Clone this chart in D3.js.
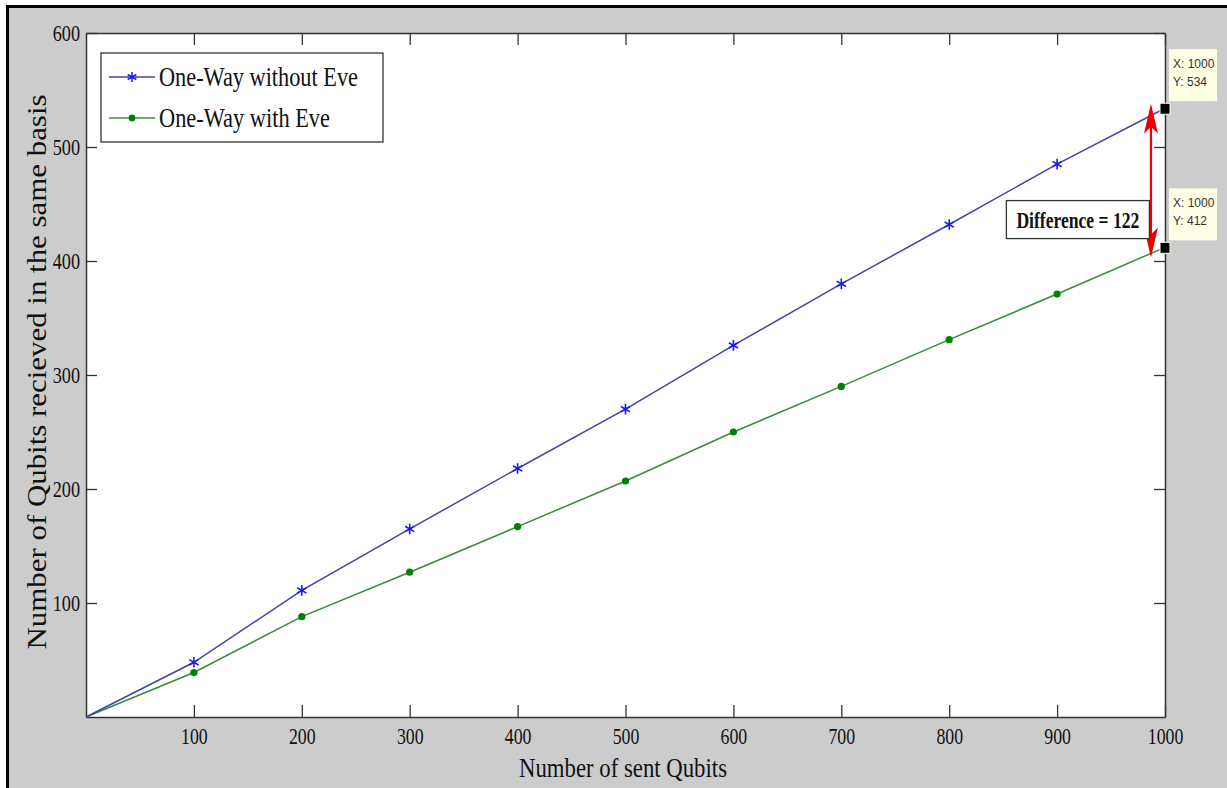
<!DOCTYPE html>
<html>
<head>
<meta charset="utf-8">
<script src="https://cdn.jsdelivr.net/npm/d3@7"></script>
<style>
  body { margin: 0; background: #fff; }
  text { font-family: "Liberation Serif", "Times New Roman", serif; fill: #111; }
  .tip text { font-family: "Liberation Sans", Arial, sans-serif; fill: #333; }
</style>
</head>
<body>
<div id="chart"></div>
<script>
// data
let sentQubits = [0, 100, 200, 300, 400, 500, 600, 700, 800, 900, 1000];
let withoutEve = [0, 48, 111, 165, 218, 270, 326, 380, 432, 485, 534];
let withEve = [0, 39, 88, 127, 167, 207, 250, 290, 331, 371, 412];
let xTicks = [100, 200, 300, 400, 500, 600, 700, 800, 900, 1000];
let yTicks = [100, 200, 300, 400, 500, 600];
let seriesNames = ["One-Way without Eve", "One-Way with Eve"];
let tips = [{ x: 1000, y: 534 }, { x: 1000, y: 412 }];
let diffArrow = { x: 987, top: 538, bottom: 403, label: "Difference = 122" };

let w = 1227, h = 788;

let svg = d3.select("#chart").append("svg")
    .attr("width", w)
    .attr("height", h);

// figure background with the black frame on top / left
svg.append("rect").attr("x", 7).attr("y", 6).attr("width", w - 7).attr("height", h - 6).attr("fill", "#cccccc");
svg.append("line").attr("x1", 7).attr("x2", w).attr("y1", 6.5).attr("y2", 6.5).attr("stroke", "#000").attr("stroke-width", 3);
svg.append("line").attr("x1", 7.5).attr("x2", 7.5).attr("y1", 5).attr("y2", h).attr("stroke", "#000").attr("stroke-width", 3);

let xScale = d3.scaleLinear().domain([0, 1000]).range([86, 1165]);
let yScale = d3.scaleLinear().domain([0, 600]).range([717, 33]);

// plot area
svg.append("rect")
    .attr("x", xScale(0)).attr("y", yScale(600))
    .attr("width", xScale(1000) - xScale(0))
    .attr("height", yScale(0) - yScale(600))
    .attr("fill", "#fff");

function squeeze(sel, k) {
    sel.each(function () {
        let len = this.getComputedTextLength();
        d3.select(this).attr("textLength", len * k).attr("lengthAdjust", "spacingAndGlyphs");
    });
}

function fitTo(sel, len) {
    sel.attr("textLength", len).attr("lengthAdjust", "spacingAndGlyphs");
}

function styleAxis(g) {
    g.select(".domain").attr("stroke", "#333").attr("stroke-width", 1.5);
    g.selectAll(".tick line").attr("stroke", "#333").attr("stroke-width", 1.3);
    g.selectAll("text").style("font-family", "Liberation Serif").style("font-size", "24px").attr("fill", "#111");
}

let xAxis = svg.append("g")
    .attr("transform", "translate(0," + yScale(0) + ")")
    .call(d3.axisBottom(xScale).tickValues(xTicks).tickFormat(d3.format("d"))
        .tickSizeInner(-12).tickSizeOuter(0).tickPadding(7));
styleAxis(xAxis);
xAxis.selectAll("text").attr("dy", "0.85em");
squeeze(xAxis.selectAll("text"), 0.74);

let xTop = svg.append("g")
    .attr("transform", "translate(0," + yScale(600) + ")")
    .call(d3.axisTop(xScale).tickValues(xTicks).tickSizeInner(-12).tickSizeOuter(0));
styleAxis(xTop);
xTop.selectAll("text").remove();

let yAxis = svg.append("g")
    .attr("transform", "translate(" + xScale(0) + ",0)")
    .call(d3.axisLeft(yScale).tickValues(yTicks).tickSizeInner(-11).tickSizeOuter(0).tickPadding(6));
styleAxis(yAxis);
squeeze(yAxis.selectAll("text"), 0.76);

let yRight = svg.append("g")
    .attr("transform", "translate(" + xScale(1000) + ",0)")
    .call(d3.axisRight(yScale).tickValues(yTicks).tickSizeInner(-11).tickSizeOuter(0));
styleAxis(yRight);
yRight.selectAll("text").remove();

// axis titles
let xTitle = svg.append("text")
    .attr("x", 623)
    .attr("y", 777)
    .style("text-anchor", "middle")
    .style("font-size", "27px")
    .text("Number of sent Qubits");
fitTo(xTitle, 208);

let yTitle = svg.append("text")
    .attr("transform", "translate(46,372) rotate(-90)")
    .style("text-anchor", "middle")
    .style("font-size", "28px")
    .text("Number of Qubits recieved in the same basis");
fitTo(yTitle, 555);

// series
let line = d3.line()
    .x(function (d) { return xScale(d[0]); })
    .y(function (d) { return yScale(d[1]); });

let blueData = sentQubits.map(function (s, i) { return [s, withoutEve[i]]; });
let greenData = sentQubits.map(function (s, i) { return [s, withEve[i]]; });

svg.append("path").datum(greenData).attr("d", line)
    .attr("fill", "none").attr("stroke", "#3a8a3a").attr("stroke-width", 1.5);
svg.append("path").datum(blueData).attr("d", line)
    .attr("fill", "none").attr("stroke", "#4343a8").attr("stroke-width", 1.5);

let star = d3.symbol().type(d3.symbolAsterisk).size(80);
svg.selectAll(".star")
    .data(blueData.slice(1))
    .enter()
    .append("path")
    .attr("class", "star")
    .attr("d", star)
    .attr("transform", function (d) { return "translate(" + xScale(d[0]) + "," + yScale(d[1]) + ")"; })
    .attr("fill", "none")
    .attr("stroke", "#1a1aff")
    .attr("stroke-width", 1.6);

svg.selectAll(".dot")
    .data(greenData.slice(1))
    .enter()
    .append("circle")
    .attr("class", "dot")
    .attr("cx", function (d) { return xScale(d[0]); })
    .attr("cy", function (d) { return yScale(d[1]); })
    .attr("r", 3.6)
    .attr("fill", "#008000");

// legend
let legend = svg.append("g").attr("transform", "translate(101,53)");
legend.append("rect").attr("width", 282).attr("height", 89)
    .attr("fill", "#fff").attr("stroke", "#333").attr("stroke-width", 1.3);
let legendColors = ["#4343a8", "#3a8a3a"];
let legendWidths = [199, 171];
seriesNames.forEach(function (name, i) {
    let yy = 24 + i * 41;
    legend.append("line").attr("x1", 8).attr("x2", 54).attr("y1", yy).attr("y2", yy)
        .attr("stroke", legendColors[i]).attr("stroke-width", 1.5);
    if (i === 0) {
        legend.append("path").attr("d", d3.symbol().type(d3.symbolAsterisk).size(70))
            .attr("transform", "translate(31," + yy + ")")
            .attr("fill", "none").attr("stroke", "#1a1aff").attr("stroke-width", 1.5);
    } else {
        legend.append("circle").attr("cx", 31).attr("cy", yy).attr("r", 3.4).attr("fill", "#008000");
    }
    let t = legend.append("text").attr("x", 58).attr("y", yy + 9)
        .style("font-size", "27px").text(name);
    fitTo(t, legendWidths[i]);
});

// difference arrow
let ax = xScale(diffArrow.x), aTop = yScale(diffArrow.top), aBot = yScale(diffArrow.bottom);
svg.append("line").attr("x1", ax).attr("x2", ax).attr("y1", aTop + 10).attr("y2", aBot - 10)
    .attr("stroke", "#ee0000").attr("stroke-width", 2.2);
svg.append("path")
    .attr("d", "M" + ax + "," + aTop + " L" + (ax - 7) + "," + (aTop + 30) + " L" + ax + "," + (aTop + 23) + " L" + (ax + 7) + "," + (aTop + 30) + "Z")
    .attr("fill", "#ee0000");
svg.append("path")
    .attr("d", "M" + ax + "," + aBot + " L" + (ax - 7) + "," + (aBot - 30) + " L" + ax + "," + (aBot - 23) + " L" + (ax + 7) + "," + (aBot - 30) + "Z")
    .attr("fill", "#ee0000");

let boxX = xScale(853), boxY = yScale(453);
svg.append("rect").attr("x", boxX).attr("y", boxY).attr("width", 143).attr("height", 38)
    .attr("fill", "#fff").attr("stroke", "#333").attr("stroke-width", 1.3);
// condense with a transform so the text box stays inside the frame
let diffText = svg.append("text")
    .style("text-anchor", "middle").style("font-size", "23px").style("font-weight", "bold")
    .text(diffArrow.label);
let diffK = 123 / diffText.node().getComputedTextLength();
diffText.attr("transform", "translate(" + (boxX + 71.5) + "," + (boxY + 27) + ") scale(" + diffK + ",1)");

// data tips
tips.forEach(function (d) {
    let px = xScale(d.x), py = yScale(d.y);
    let g = svg.append("g").attr("class", "tip");
    g.append("rect").attr("x", px + 4).attr("y", py - 59).attr("width", 48).attr("height", 52)
        .attr("fill", "#ffffe6");
    g.append("text").attr("x", px + 8).attr("y", py - 40).style("font-size", "12px").text("X: " + d.x);
    g.append("text").attr("x", px + 8).attr("y", py - 22).style("font-size", "12px").text("Y: " + d.y);
    g.append("rect").attr("x", px - 5).attr("y", py - 5).attr("width", 10).attr("height", 11)
        .attr("fill", "#000").attr("stroke", "#ffffe6").attr("stroke-width", 1);
});
</script>
</body>
</html>
